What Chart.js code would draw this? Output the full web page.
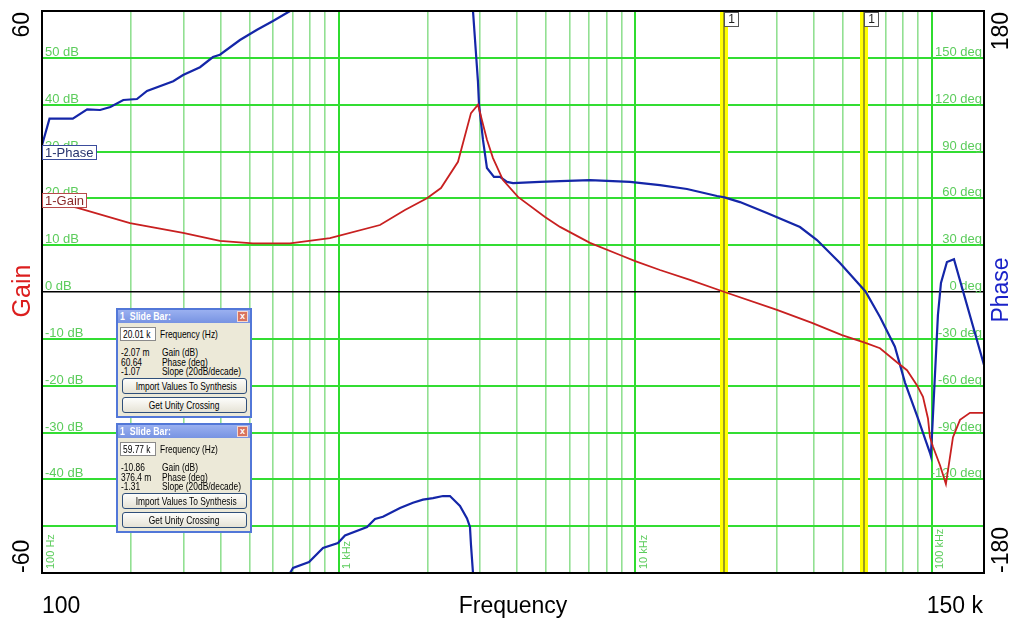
<!DOCTYPE html>
<html>
<head>
<meta charset="utf-8">
<script src="https://cdn.jsdelivr.net/npm/chart.js@4.4.0/dist/chart.umd.min.js"></script>
<style>
html, body { margin: 0; padding: 0; background: #fff; }
#wrap { position: relative; width: 1013px; height: 619px; overflow: hidden; }
canvas { display: block; }
.slide { position: absolute; left: 116px; width: 132px; height: 106px; border: 2px solid #5277d8;
  background: #ece9d8; font: 10.5px "Liberation Sans", Arial, sans-serif; color: #000; }
.slide div { position: absolute; white-space: nowrap; }
.t { transform: scaleX(0.8); transform-origin: 0 50%; }
.ttl { left: 0; top: 0; width: 132px; height: 13px; background: linear-gradient(#9ab0f0, #7793e2); }
.ttl span.tt { position: absolute; left: 2px; top: 0; color: #fff; font: bold 10px "Liberation Sans", sans-serif;
  line-height: 13px; transform: scaleX(0.88); transform-origin: 0 50%; }
.cls { position: absolute; right: 2px; top: 1px; width: 9px; height: 9px; background: #d8735f; border: 1px solid #f4d8d0;
  color: #fff; font: bold 9px "Liberation Sans", sans-serif; line-height: 9px; text-align: center; }
.fbox { left: 2px; top: 17px; width: 34px; height: 12px; background: #fff; border: 1px solid #8a8a8a; }
.fbox span { position: absolute; left: 2px; top: 0; line-height: 12px; }
.flab { left: 42px; top: 18px; line-height: 13px; }
.val { left: 3px; line-height: 10px; }
.lab { left: 44px; line-height: 10px; }
.btn { left: 4px; width: 123px; height: 14px; border: 1px solid #2f4f7a; border-radius: 3px;
  background: linear-gradient(#fdfdfb, #e6e3d6); text-align: center; line-height: 14px; }
.btn span { display: inline-block; transform: scaleX(0.8); transform-origin: 50% 50%; }
</style>
</head>
<body>
<div id="wrap">
<canvas id="c" width="1013" height="619"></canvas>
</div>
<script>
// gain trace (Hz, dB)
var gainFreq = [100, 131, 198, 299, 398, 514, 686, 935, 1379, 1674, 1986, 2214, 2527, 2795, 2951,
  3164, 3316, 3584, 4026, 4965, 5580, 7040, 8890, 10000, 12120, 15300, 20010, 30060, 39450, 49800,
  59770, 66900, 76300, 82500, 89100, 93400, 97100, 98600, 100900, 106600, 111600, 117900, 124500,
  134500, 150000];
var gainDb = [19.6, 18, 14.7, 12.6, 10.9, 10.4, 10.4, 11.5, 14.3, 17.5, 20, 22.2, 27.8, 38.2, 40,
  32.5, 28.6, 23.9, 20.3, 16, 13.9, 10.5, 7.9, 6.6, 4.7, 2.6, 0, -3.8, -6.6, -9.2,
  -10.86, -12, -15, -16.7, -19.9, -22.4, -27, -31, -33, -37, -41, -31, -27.3,
  -25.8, -25.8];

// phase trace (Hz, deg), null where it wraps at +-180
var phaseFreq = [100, 106, 127, 142, 157, 170, 188, 209, 226, 277, 299, 341, 377, 398, 465, 531, 601, 686,
  686, 686, 702, 795, 886, 995, 1051, 1247, 1327, 1411, 1611, 1781, 1925, 2081, 2249, 2374, 2566, 2710, 2773, 2795, 2839,
  2839, 2839, 2900, 2950, 2975, 3068, 3164, 3341, 3501, 3697, 3873, 4775, 5580, 7040, 9605, 12120, 14950,
  18870, 20010, 22560, 27820, 35940, 41020, 49030, 59770, 66900, 75100, 81230, 89100, 98600, 99300, 100560,
  104900, 107400, 112500, 118800, 150000];
var phaseDeg = [94, 111, 111, 117, 116.6, 118.5, 123, 123.6, 128.8, 135, 139, 144, 150.5, 152, 161.4, 168, 173.6, 180,
  null, -180, -176.8, -173, -164, -160.8, -156, -150.5, -145.4, -144, -138.4, -135, -133, -132, -130.7, -130.7, -137, -145, -150.5, -162, -180,
  null, 180, 155, 135, 120, 97.4, 79.4, 73.7, 73.7, 70.5, 69.8, 70.5, 71, 71.7, 70.5, 68.5, 66,
  61.5, 60.64, 57.6, 50.6, 41.6, 33.3, 18.6, 0.38, -16, -35, -58, -79, -103, -105, -85,
  -14.7, 5.8, 19.2, 21, -46.8];

var gridFreqs = [100, 200, 300, 400, 500, 600, 700, 800, 900, 1000, 2000, 3000, 4000, 5000, 6000, 7000, 8000, 9000,
  10000, 20000, 30000, 40000, 50000, 60000, 70000, 80000, 90000, 100000];
var decades = [100, 1000, 10000, 100000];
var decadeLabels = ['100 Hz', '1 kHz', '10 kHz', '100 kHz'];
var dbTicks = [50, 40, 30, 20, 10, 0, -10, -20, -30, -40];
var degTicks = [150, 120, 90, 60, 30, 0, -30, -60, -90, -120];

// slide bar readouts
var markerFreqs = [20010, 59770];
var markerFreqText = ['20.01 k', '59.77 k'];
var markerGain = ['-2.07 m', '-10.86'];
var markerPhase = ['60.64', '376.4 m'];
var markerSlope = ['-1.07', '-1.31'];

function pairs(xs, ys) {
  return xs.map(function (f, i) { return { x: f, y: ys[i] }; });
}

var F = '"Liberation Sans", Arial, sans-serif';

var overlay = {
  id: 'overlay',
  beforeDatasetsDraw: function (chart) {
    var ctx = chart.ctx, a = chart.chartArea, x = chart.scales.x, y = chart.scales.y, y2 = chart.scales.y2;
    ctx.save();
    // yellow slide bars
    markerFreqs.forEach(function (f) {
      var px = Math.round(x.getPixelForValue(f)) - 1;
      ctx.fillStyle = '#ffff00';
      ctx.fillRect(px - 4, a.top, 8, a.bottom - a.top);
      ctx.fillStyle = '#3a3a3a';
      ctx.fillRect(px - 0.5, a.top, 1, a.bottom - a.top);
    });
    // grid value labels
    ctx.font = '13px ' + F;
    ctx.fillStyle = '#5ccc5c';
    ctx.textBaseline = 'alphabetic';
    ctx.textAlign = 'left';
    dbTicks.forEach(function (v) {
      ctx.fillText(v + ' dB', a.left + 3, y.getPixelForValue(v) - 2);
    });
    ctx.textAlign = 'right';
    degTicks.forEach(function (v) {
      ctx.fillText(v + ' deg', a.right - 2, y2.getPixelForValue(v) - 2);
    });
    // decade labels, vertical
    ctx.font = '11px ' + F;
    ctx.textAlign = 'left';
    ctx.textBaseline = 'top';
    decades.forEach(function (f, i) {
      var px = x.getPixelForValue(f);
      ctx.save();
      ctx.translate(px + 3, a.bottom - 4);
      ctx.rotate(-Math.PI / 2);
      ctx.fillText(decadeLabels[i], 0, 0);
      ctx.restore();
    });
    ctx.restore();
  },
  afterDraw: function (chart) {
    var ctx = chart.ctx, a = chart.chartArea, x = chart.scales.x;
    ctx.save();
    // frame
    ctx.strokeStyle = '#000';
    ctx.lineWidth = 2;
    ctx.strokeRect(a.left, a.top, a.right - a.left, a.bottom - a.top);
    // slide bar flags
    ctx.font = '12px ' + F;
    ctx.textAlign = 'center';
    ctx.textBaseline = 'middle';
    markerFreqs.forEach(function (f) {
      var px = Math.round(x.getPixelForValue(f)) - 1;
      ctx.fillStyle = '#fff';
      ctx.fillRect(px + 0.5, a.top + 1.5, 14, 14);
      ctx.strokeStyle = '#555';
      ctx.lineWidth = 1;
      ctx.strokeRect(px + 0.5, a.top + 1.5, 14, 14);
      ctx.fillStyle = '#222';
      ctx.fillText('1', px + 7.5, a.top + 9);
    });
    // trace tags
    function tag(txt, top, w, border, color) {
      ctx.fillStyle = '#fff';
      ctx.fillRect(a.left + 0.5, top + 0.5, w, 14);
      ctx.strokeStyle = border;
      ctx.lineWidth = 1;
      ctx.strokeRect(a.left + 0.5, top + 0.5, w, 14);
      ctx.fillStyle = color;
      ctx.font = '13px ' + F;
      ctx.textAlign = 'left';
      ctx.textBaseline = 'middle';
      ctx.fillText(txt, a.left + 3, top + 8);
    }
    tag('1-Phase', 145, 54, '#3b4c9c', '#27336e');
    tag('1-Gain', 193, 44, '#b84a4a', '#8a2a2a');
    // axis texts
    ctx.font = '23px ' + F;
    function vtext(txt, cx, cy, align, color) {
      ctx.save();
      ctx.translate(cx, cy);
      ctx.rotate(-Math.PI / 2);
      ctx.textAlign = align;
      ctx.textBaseline = 'middle';
      ctx.fillStyle = color;
      ctx.fillText(txt, 0, 0);
      ctx.restore();
    }
    vtext('60', 23, a.top + 1, 'right', '#000');
    vtext('-60', 23, a.bottom, 'left', '#000');
    vtext('180', 1002, a.top + 1, 'right', '#000');
    vtext('-180', 1002, a.bottom, 'left', '#000');
    ctx.font = '25px ' + F;
    vtext('Gain', 23, 291, 'center', '#dc1e1e');
    ctx.font = '23px ' + F;
    vtext('Phase', 1002, 290, 'center', '#1a22c8');
    ctx.fillStyle = '#000';
    ctx.textBaseline = 'alphabetic';
    ctx.textAlign = 'left';
    ctx.fillText('100', a.left, 613);
    ctx.textAlign = 'center';
    ctx.fillText('Frequency', (a.left + a.right) / 2, 613);
    ctx.textAlign = 'right';
    ctx.fillText('150 k', a.right - 1, 613);
    ctx.restore();
  }
};

new Chart(document.getElementById('c'), {
  type: 'line',
  data: {
    datasets: [
      { label: '1-Gain', data: pairs(gainFreq, gainDb), yAxisID: 'y', borderColor: '#c82020',
        borderWidth: 1.8, pointRadius: 0, tension: 0, spanGaps: false },
      { label: '1-Phase', data: pairs(phaseFreq, phaseDeg), yAxisID: 'y2', borderColor: '#1426a8',
        borderWidth: 2.2, pointRadius: 0, tension: 0, spanGaps: false }
    ]
  },
  options: {
    responsive: false,
    animation: false,
    devicePixelRatio: 1,
    layout: { padding: { left: 42, top: 11, right: 29, bottom: 46 } },
    plugins: { legend: { display: false }, tooltip: { enabled: false } },
    scales: {
      x: {
        type: 'logarithmic', min: 100, max: 150000,
        afterBuildTicks: function (ax) { ax.ticks = gridFreqs.map(function (v) { return { value: v }; }); },
        ticks: { display: false },
        border: { display: false },
        grid: {
          drawTicks: false,
          color: function (c) { return decades.indexOf(c.tick.value) >= 0 ? '#2fdc2f' : '#92e092'; },
          lineWidth: function (c) { return decades.indexOf(c.tick.value) >= 0 ? 2 : 1.6; }
        }
      },
      y: {
        type: 'linear', position: 'left', min: -60, max: 60,
        ticks: { display: false, stepSize: 10 },
        border: { display: false },
        grid: {
          drawTicks: false,
          color: function (c) {
            var v = c.tick.value;
            if (v === 0) return '#000';
            if (v === 60 || v === -60) return 'rgba(0,0,0,0)';
            return '#33dd33';
          },
          lineWidth: function (c) { return c.tick.value === 0 ? 1.6 : 2; }
        }
      },
      y2: {
        type: 'linear', position: 'right', min: -180, max: 180, display: false
      }
    }
  },
  plugins: [overlay]
});

// slide bar panels
var wrap = document.getElementById('wrap');
markerFreqs.forEach(function (f, i) {
  var d = document.createElement('div');
  d.className = 'slide';
  d.style.top = (308 + i * 115) + 'px';
  d.innerHTML =
    '<div class="ttl"><span class="tt">1&nbsp; Slide Bar:</span><span class="cls">x</span></div>' +
    '<div class="fbox"><span class="t">' + markerFreqText[i] + '</span></div>' +
    '<div class="flab t">Frequency (Hz)</div>' +
    '<div class="val t" style="top:37px">' + markerGain[i] + '</div>' +
    '<div class="lab t" style="top:37px">Gain (dB)</div>' +
    '<div class="val t" style="top:46.5px">' + markerPhase[i] + '</div>' +
    '<div class="lab t" style="top:46.5px">Phase (deg)</div>' +
    '<div class="val t" style="top:56px">' + markerSlope[i] + '</div>' +
    '<div class="lab t" style="top:56px">Slope (20dB/decade)</div>' +
    '<div class="btn" style="top:68px"><span>Import Values To Synthesis</span></div>' +
    '<div class="btn" style="top:87px"><span>Get Unity Crossing</span></div>';
  wrap.appendChild(d);
});
</script>
</body>
</html>
